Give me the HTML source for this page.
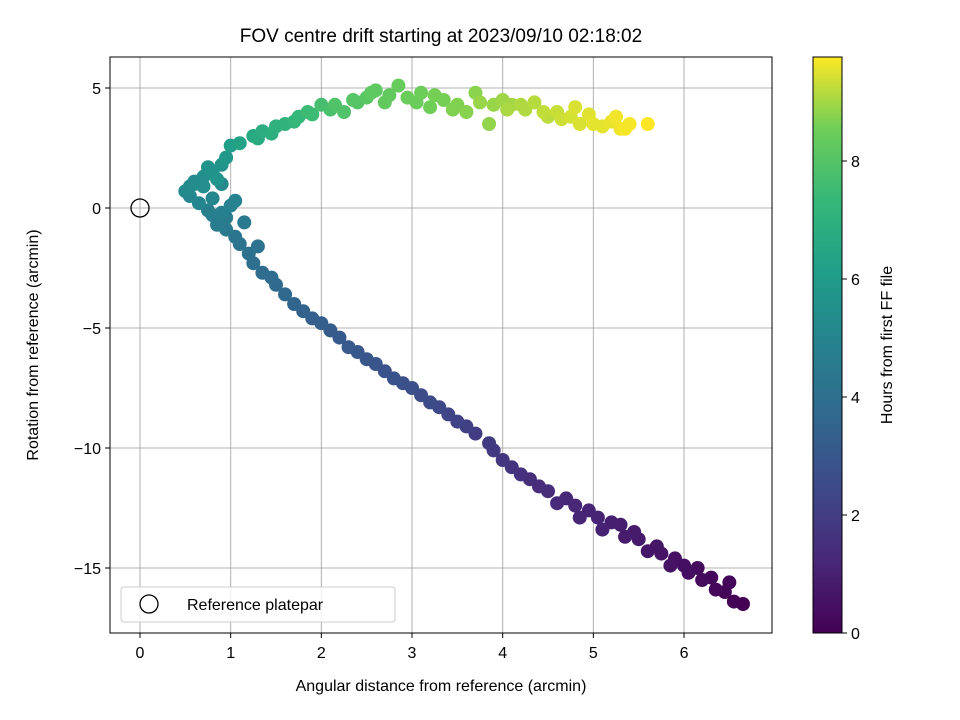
<!DOCTYPE html>
<html><head><meta charset="utf-8"><style>
body{margin:0;background:#fff;}
svg{display:block;font-family:"Liberation Sans","DejaVu Sans",sans-serif;}
</style></head><body>
<svg id="chart" width="960" height="720" viewBox="0 0 960 720" xmlns="http://www.w3.org/2000/svg">
<defs><linearGradient id="vir" x1="0" y1="1" x2="0" y2="0">
<stop offset="0" stop-color="#440154"/><stop offset="0.125" stop-color="#482878"/><stop offset="0.25" stop-color="#3e4989"/><stop offset="0.375" stop-color="#31688e"/><stop offset="0.5" stop-color="#26828e"/><stop offset="0.625" stop-color="#1f9e89"/><stop offset="0.75" stop-color="#35b779"/><stop offset="0.875" stop-color="#6ece58"/><stop offset="1" stop-color="#fde725"/></linearGradient>
<clipPath id="pc"><rect x="110" y="57" width="662" height="576"/></clipPath></defs>
<text x="441" y="42" font-size="19" text-anchor="middle">FOV centre drift starting at 2023/09/10 02:18:02</text>
<g id="grid"></g><g id="pts" clip-path="url(#pc)"></g><g id="axes"></g>
<rect x="110" y="57" width="662" height="576" fill="none" stroke="#000" stroke-width="1"/>
<text x="441" y="691" font-size="16" text-anchor="middle">Angular distance from reference (arcmin)</text>
<text transform="translate(38,345) rotate(-90)" font-size="16" text-anchor="middle">Rotation from reference (arcmin)</text>
<g>
<rect x="121" y="587" width="274" height="35" rx="3" fill="#fff" fill-opacity="0.8" stroke="#ccc"/>
<circle cx="149" cy="604" r="9" fill="none" stroke="#000" stroke-width="1.3"/>
<text x="187" y="610" font-size="16">Reference platepar</text></g>
<rect x="813" y="57" width="29" height="576" fill="url(#vir)" stroke="#000"/>
<g id="cbar"></g>
<text transform="translate(892,345) rotate(-90)" font-size="16" text-anchor="middle">Hours from first FF file</text>
</svg>
<script>
const xTicks=[0,1,2,3,4,5,6];
const yTicks=[5,0,-5,-10,-15];
const yTickLabels=["5","0","\u22125","\u221210","\u221215"];
const cTicks=[0,2,4,6,8];
const xs=[6.65,6.55,6.45,6.5,6.35,6.3,6.2,6.15,6.05,6.0,5.9,5.85,5.75,5.7,5.6,5.5,5.45,5.35,5.3,5.2,5.1,5.05,4.95,4.85,4.8,4.7,4.6,4.5,4.4,4.3,4.2,4.1,4.0,3.9,3.85,3.7,3.6,3.5,3.4,3.3,3.2,3.1,3.0,2.9,2.8,2.7,2.6,2.5,2.4,2.3,2.2,2.1,2.0,1.9,1.8,1.7,1.6,1.5,1.45,1.35,1.25,1.2,1.1,1.05,0.95,0.85,0.8,0.75,0.9,1.0,0.65,0.55,0.5,0.6,0.7,0.8,0.9,0.85,0.95,1.0,1.1,1.25,1.35,1.5,1.6,1.75,1.9,2.0,2.1,2.25,2.4,2.5,2.6,2.7,2.85,2.95,3.1,3.2,3.35,3.5,3.6,3.7,3.85,3.9,4.0,4.1,4.25,4.35,4.5,4.6,4.75,4.85,4.95,5.1,5.2,5.3,5.4,5.6,0.7,0.8,0.6,0.75,0.9,1.05,1.3,1.45,1.7,1.85,2.15,2.35,2.55,2.75,3.05,3.25,3.45,3.75,4.05,4.2,4.45,4.65,4.8,5.0,5.25,5.35,1.15,1.3,0.95,0.55];
const ys=[-16.5,-16.4,-16.0,-15.6,-15.9,-15.4,-15.5,-15.0,-15.2,-14.9,-14.6,-14.9,-14.4,-14.1,-14.3,-13.8,-13.5,-13.7,-13.2,-13.1,-13.4,-12.9,-12.6,-12.9,-12.4,-12.1,-12.3,-11.8,-11.6,-11.3,-11.1,-10.8,-10.5,-10.1,-9.8,-9.4,-9.1,-8.9,-8.6,-8.3,-8.1,-7.8,-7.5,-7.3,-7.1,-6.8,-6.5,-6.3,-6.0,-5.8,-5.4,-5.1,-4.8,-4.6,-4.3,-4.0,-3.6,-3.2,-2.9,-2.7,-2.3,-1.9,-1.5,-1.2,-0.9,-0.7,-0.3,-0.1,-0.2,0.1,0.2,0.5,0.7,1.0,1.3,1.5,1.8,1.2,2.1,2.6,2.7,3.0,3.2,3.4,3.5,3.8,3.9,4.3,4.1,4.0,4.4,4.6,4.9,4.4,5.1,4.6,4.8,4.2,4.5,4.3,4.0,4.8,3.5,4.3,4.5,4.3,4.1,4.4,3.8,4.0,3.8,3.5,3.9,3.4,3.6,3.3,3.5,3.5,0.9,0.4,1.1,1.7,1.0,0.3,2.9,3.1,3.6,4.0,4.3,4.5,4.8,4.7,4.4,4.7,4.1,4.4,4.1,4.3,4.0,3.7,4.2,3.5,3.8,3.3,-0.6,-1.6,-0.4,0.9];
const hours=[0.0,0.05,0.1,0.15,0.2,0.25,0.3,0.35,0.4,0.45,0.5,0.55,0.6,0.65,0.7,0.75,0.8,0.85,0.9,0.95,1.0,1.05,1.1,1.15,1.2,1.25,1.3,1.35,1.4,1.45,1.55,1.65,1.75,1.85,1.9,2.0,2.1,2.2,2.3,2.4,2.5,2.6,2.7,2.75,2.8,2.85,2.9,2.95,3.0,3.05,3.1,3.2,3.3,3.35,3.45,3.55,3.65,3.75,3.85,3.9,4.0,4.1,4.2,4.3,4.45,4.55,4.65,4.75,4.8,4.9,5.0,5.1,5.2,5.3,5.4,5.5,5.6,5.7,5.8,6.1,6.3,6.6,6.8,7.0,7.1,7.3,7.5,7.7,7.8,7.9,8.0,8.1,8.2,8.3,8.4,8.45,8.5,8.55,8.6,8.7,8.75,8.8,8.85,8.9,8.95,9.0,9.1,9.15,9.2,9.3,9.4,9.45,9.5,9.55,9.6,9.65,9.7,9.76,5.4,5.1,5.3,5.6,5.2,4.9,6.7,6.9,7.2,7.5,7.9,8.05,8.2,8.3,8.45,8.6,8.7,8.9,9.05,9.1,9.25,9.35,9.45,9.55,9.65,9.7,4.5,4.15,4.6,5.25];
const NS="http://www.w3.org/2000/svg";
const X=v=>140+v*90.67, Y=v=>208-v*24, CY=v=>633-v*59, CMAX=9.76;
const vir=[[68,1,84],[72,40,120],[62,73,137],[49,104,142],[38,130,142],[31,158,137],[53,183,121],[110,206,88],[253,231,37]];
function col(t){let f=Math.max(0,Math.min(1,t/CMAX))*8,i=Math.min(7,Math.floor(f)),r=f-i,a=vir[i],b=vir[i+1];return `rgb(${a.map((c,k)=>Math.round(c+(b[k]-c)*r)).join(",")})`;}
function mk(tag,at,parent){const e=document.createElementNS(NS,tag);for(const k in at)e.setAttribute(k,at[k]);parent.appendChild(e);return e;}
const g=document.getElementById('grid'),ax=document.getElementById('axes'),pg=document.getElementById('pts'),cb=document.getElementById('cbar');
xTicks.forEach(v=>{
 const l=mk('line',{x1:X(v),x2:X(v),y1:57,y2:633,stroke:'#b0b0b0','stroke-width':1},g);
 
 
 mk('line',{x1:X(v),x2:X(v),y1:633,y2:638,stroke:'#000'},ax);
 const t=mk('text',{x:X(v),y:658,'font-size':16,'text-anchor':'middle'},ax);t.textContent=v;
 
 
});
yTicks.forEach((v,i)=>{
 const l=mk('line',{x1:110,x2:772,y1:Y(v),y2:Y(v),stroke:'#b0b0b0','stroke-width':1},g);
 
 
 mk('line',{x1:105,x2:110,y1:Y(v),y2:Y(v),stroke:'#000'},ax);
 const t=mk('text',{x:101,y:Y(v)+6,'font-size':16,'text-anchor':'end'},ax);t.textContent=yTickLabels[i];
 
 
});
cTicks.forEach(v=>{
 mk('line',{x1:842,x2:847,y1:CY(v),y2:CY(v),stroke:'#000'},cb);
 const t=mk('text',{x:851,y:CY(v)+6,'font-size':16},cb);t.textContent=v;
 
 
});
const order=hours.map((h,i)=>i).sort((a,b)=>hours[a]-hours[b]);
order.forEach(i=>{
 const c=mk('circle',{cx:X(xs[i]),cy:Y(ys[i]),r:7,fill:col(hours[i])},pg);
 
 
});
const ref=mk('circle',{cx:X(0),cy:Y(0),r:9,fill:'none',stroke:'#000','stroke-width':1.3},pg);


</script>
</body></html>
